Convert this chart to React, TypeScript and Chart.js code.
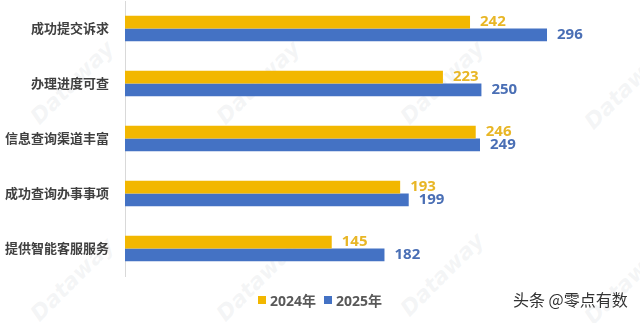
import React, { useEffect, useRef } from "react";
import { Chart, registerables } from "chart.js";

Chart.register(...registerables);

const categories = ["成功提交诉求", "办理进度可查", "信息查询渠道丰富", "成功查询办事事项", "提供智能客服服务"];
const seriesNames = ["2024年", "2025年"];
const values2024 = [242, 223, 246, 193, 145];
const values2025 = [296, 250, 249, 199, 182];

const GOLD = "#F2B700";
const GOLD_LABEL = "#E8B626";
const BLUE = "#4472C4";
const BLUE_LABEL = "#4A6FB5";

const labelPlugin = {
  id: "valueLabels",
  afterDatasetsDraw(chart: any) {
    const ctx = chart.ctx;
    ctx.save();
    ctx.font = "bold 15px 'Open Sans', 'Noto Sans', sans-serif";
    ctx.textAlign = "left";
    ctx.textBaseline = "middle";
    chart.data.datasets.forEach((ds: any, di: number) => {
      const meta = chart.getDatasetMeta(di);
      ctx.fillStyle = di === 0 ? GOLD_LABEL : BLUE_LABEL;
      meta.data.forEach((el: any, i: number) => {
        ctx.fillText(String(ds.data[i]), el.x + 10, el.y);
      });
    });
    ctx.restore();
  },
};

const marks = [
  [66, 90], [252, 90], [436, 90], [620, 95],
  [66, 287], [252, 287], [436, 282], [620, 290],
];

export default function App() {
  const ref = useRef<HTMLCanvasElement>(null);
  useEffect(() => {
    document.body.style.margin = "0";
    const chart = new Chart(ref.current!, {
      type: "bar",
      data: {
        labels: categories,
        datasets: [
          { label: seriesNames[0], data: values2024, backgroundColor: GOLD },
          { label: seriesNames[1], data: values2025, backgroundColor: BLUE },
        ],
      },
      options: {
        indexAxis: "y",
        animation: false,
        responsive: false,
        maintainAspectRatio: false,
        layout: { padding: { top: 1, bottom: 47, left: 0, right: 16 } },
        datasets: { bar: { categoryPercentage: 0.46, barPercentage: 1 } },
        plugins: { legend: { display: false }, tooltip: { enabled: false } },
        scales: {
          x: { display: false, min: 0, max: 350 },
          y: {
            afterFit: (s: any) => {
              s.width = 125;
              s.paddingTop = 0;
              s.paddingBottom = 0;
            },
            grid: { display: false },
            border: { display: true, color: "#D9D9D9", width: 1 },
            ticks: {
              color: "#404040",
              padding: 8,
              font: { size: 13, weight: "bold", family: "'Noto Sans CJK SC', sans-serif" },
            },
          },
        },
      },
      plugins: [labelPlugin],
    });
    return () => chart.destroy();
  }, []);

  return (
    <div style={{ position: "relative", width: 640, height: 323, background: "#fff", overflow: "hidden" }}>
      {marks.map(([x, y], i) => (
        <div
          key={i}
          style={{
            position: "absolute",
            left: x - 45,
            top: y - 14,
            width: 90,
            textAlign: "center",
            transform: "rotate(-45deg)",
            font: "italic bold 22px 'DejaVu Sans', sans-serif",
            color: "rgba(190,195,200,0.16)",
            pointerEvents: "none",
          }}
        >
          Dataway
        </div>
      ))}
      <canvas ref={ref} width={640} height={323} style={{ position: "absolute", left: 0, top: 0 }} />
      <div
        style={{
          position: "absolute",
          top: 290,
          left: 0,
          width: 640,
          display: "flex",
          justifyContent: "center",
          alignItems: "center",
          font: "bold 14px 'Open Sans', 'Noto Sans CJK SC', sans-serif",
          color: "#595959",
        }}
      >
        <span style={{ display: "inline-block", width: 8, height: 8, background: GOLD, marginRight: 4 }} />
        <span style={{ marginRight: 8 }}>{seriesNames[0]}</span>
        <span style={{ display: "inline-block", width: 8, height: 8, background: BLUE, marginRight: 4 }} />
        <span>{seriesNames[1]}</span>
      </div>
      <div
        style={{
          position: "absolute",
          left: 513,
          top: 287,
          font: "16px 'Noto Sans CJK SC', sans-serif",
          color: "#333",
          whiteSpace: "nowrap",
        }}
      >
        头条 @零点有数
      </div>
    </div>
  );
}
